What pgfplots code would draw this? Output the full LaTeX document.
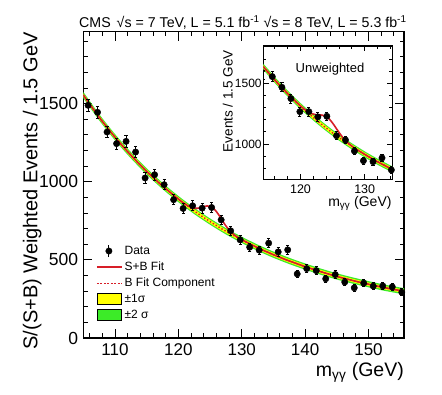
\documentclass[border=0pt]{standalone}
\usepackage{pgfplots}
\pgfplotsset{compat=1.18}
\usepackage{pgfplotstable}
\usepgfplotslibrary{fillbetween}
\usepackage{fontspec}
\setmainfont{Liberation Sans}
\definecolor{sbred}{RGB}{215,30,40}
\definecolor{band1}{RGB}{255,255,0}
\definecolor{band2}{RGB}{60,235,40}

\pgfplotstableread{
m y e
105.75 1489 38
107.25 1444 38
108.75 1318 37
110.25 1244 36
111.75 1258 36
113.25 1190 35
114.75 1024 34
116.25 1045 34
117.75 981 33
119.25 885 32
120.75 829 31
122.25 846 31
123.75 831 31
125.25 835 31
126.75 756 30
128.25 686 29
129.75 628 28
131.25 581 27
132.75 562 27
134.25 607 28
135.75 551 27
137.25 564 27
138.75 410 24
140.25 444 25
141.75 431 24
143.25 379 23
144.75 406 24
146.25 358 23
147.75 321 22
149.25 351 23
150.75 332 22
152.25 333 22
153.75 327 22
155.25 293 21
}\maindata

\pgfplotstableread{
m B lo2 lo1 hi1 hi2
105 1555 1535 1544 1566 1575
107.5 1413 1393 1402 1424 1433
110 1285 1265 1274 1296 1305
112.5 1170 1150 1159 1181 1190
115 1066 1046 1055 1077 1086
117.5 973 953 962 984 993
120 889 869 878 900 909
122.5 813 793 802 824 833
125 745 725 734 756 765
127.5 683 663 672 694 703
130 628 608 617 639 648
132.5 578 558 567 589 598
135 533 513 522 544 553
137.5 493 473 482 504 513
140 457 437 446 468 477
142.5 424 404 413 435 444
145 394 374 383 405 414
147.5 368 348 357 379 388
150 344 324 333 355 364
152.5 322 302 311 333 342
155.6 299 279 288 310 319
}\mainband

\pgfplotstableread{
m y
105 1555
107.5 1413
110 1285
112.5 1170
115 1066
117.5 973
120 889
120.5 873
121 859
121.5 846
122 837
122.5 830
123 830
123.5 834
124 840
124.5 845
125 843
125.5 831
126 809
126.5 780
127 748
127.5 717
128 692
128.5 671
129 654
129.5 641
130 629
132.5 578
135 533
137.5 493
140 457
142.5 424
145 394
147.5 368
150 344
152.5 322
155.6 299
}\mainsb

\pgfplotstableread{
m y e
114.18 1569 40
115.6 1555 39
117.1 1467 38
118.5 1374 37
119.9 1266 36
121.3 1266 36
122.7 1223 35
124.1 1228 35
125.6 1068 33
127.0 1033 32
128.4 942 31
129.8 862 29
131.3 854 29
132.7 885 30
134.15 786 28
}\insetdata

\pgfplotstableread{
m B lo2 lo1 hi1 hi2
114.2 1637 1612 1623 1651 1662
116.2 1515 1490 1501 1529 1540
118.2 1404 1379 1390 1418 1429
120.2 1302 1277 1288 1316 1327
122.2 1209 1184 1195 1223 1234
124.2 1123 1098 1109 1137 1148
126.2 1045 1020 1031 1059 1070
128.2 974 949 960 988 999
130.2 908 883 894 922 933
132.2 848 823 834 862 873
134.3 791 766 777 805 816
}\insetband

\pgfplotstableread{
m y
114.2 1637
116.2 1515
118.2 1404
120 1313
120.5 1291
121 1271
121.5 1255
122 1246
122.5 1240
123 1240
123.5 1236
124 1225
124.5 1204
125 1172
125.5 1134
126 1095
126.5 1059
127 1029
127.5 1004
128 982
128.5 963
130.2 908
132.2 848
134.3 791
}\insetsb

\begin{document}
\begin{tikzpicture}
\path (0,0) rectangle (442pt,394pt);
\begin{axis}[
  at={(83.3pt,56pt)}, anchor=south west, scale only axis,
  width=320.7pt, height=306.3pt,
  xmin=105, xmax=155.6, ymin=0, ymax=1960,
  xtick={110,120,130,140,150}, ytick={0,500,1000,1500},
  minor xtick={106,108,...,154}, minor ytick={100,200,...,1900},
  tick align=inside, xtick pos=both, ytick pos=both,
  major tick length=9pt, minor tick length=4.5pt,
  every tick/.style={black, line width=0.9pt},
  axis line style={line width=1.2pt},
  /pgf/number format/assume math mode=true, /pgf/number format/1000 sep={},
  xticklabel style={font=\fontsize{17}{17}\selectfont, inner sep=0pt, yshift=-5pt},
  yticklabel style={font=\fontsize{17.5}{17.5}\selectfont, inner sep=0pt, xshift=-5pt},
  xlabel={m\textsubscript{γγ} (GeV)},
  xlabel style={at={(1,0)}, anchor=north east, inner sep=0pt, yshift=-23.7pt, font=\fontsize{19.5}{19.5}\selectfont},
  ylabel={S/(S+B) Weighted Events / 1.5 GeV},
  ylabel style={at={(0,0.48)}, anchor=center, inner sep=0pt, yshift=51.2pt, font=\fontsize{20}{20}\selectfont},
  legend cell align=left,
  legend style={draw=none, fill=none, at={(0.0396,0.307)}, anchor=north west,
    font=\fontsize{12}{14}\selectfont, row sep=2pt, inner sep=0pt},
]
\addplot[name path=h2, draw=none, smooth, forget plot] table[x=m,y=hi2]{\mainband};
\addplot[name path=l2, draw=none, smooth, forget plot] table[x=m,y=lo2]{\mainband};
\addplot[band2, forget plot] fill between[of=h2 and l2];
\addplot[name path=h1, draw=none, smooth, forget plot] table[x=m,y=hi1]{\mainband};
\addplot[name path=l1, draw=none, smooth, forget plot] table[x=m,y=lo1]{\mainband};
\addplot[band1, forget plot] fill between[of=h1 and l1];
\addplot[sbred, dotted, line width=1.4pt, smooth, forget plot] table[x=m,y=B]{\mainband};
\addplot[sbred, line width=1.6pt, smooth, forget plot] table[x=m,y=y]{\mainsb};
\addplot[only marks, mark=*, mark size=3.2pt, black, forget plot,
  error bars/.cd, y dir=both, y explicit,
  error bar style={line width=0.9pt},
  error mark options={rotate=90, mark size=1.6pt, line width=0.9pt}]
  table[x=m, y=y, y error=e]{\maindata};

\addlegendimage{legend image code/.code={\draw[black,line width=0.9pt] (12pt,-6pt)--(12pt,6pt); \fill[black] (12pt,0pt) circle (3.2pt);}}
\addlegendentry{Data}
\addlegendimage{legend image code/.code={\draw[sbred,line width=1.4pt] (0pt,0pt)--(25pt,0pt);}}
\addlegendentry{S+B Fit}
\addlegendimage{legend image code/.code={\draw[sbred,line width=1.3pt,dash pattern=on 2pt off 1.5pt] (0pt,0pt)--(25pt,0pt);}}
\addlegendentry{B Fit Component}
\addlegendimage{legend image code/.code={\draw[black,fill=band1,line width=0.6pt] (0pt,-5.5pt) rectangle (24pt,5.5pt);}}
\addlegendentry{±1σ}
\addlegendimage{legend image code/.code={\draw[black,fill=band2,line width=0.6pt] (0pt,-5.5pt) rectangle (24pt,5.5pt);}}
\addlegendentry{±2 σ}
\end{axis}

\node[anchor=base west, inner sep=0pt, font=\fontsize{14.2}{14.2}\selectfont] at (79pt,366.5pt)
  {CMS\hspace{6pt}√s = 7 TeV, L = 5.1 fb\textsuperscript{-1} √s = 8 TeV, L = 5.3 fb\textsuperscript{-1}};

\begin{axis}[
  at={(263.3pt,214.7pt)}, anchor=south west, scale only axis,
  width=129pt, height=133.3pt,
  xmin=114.2, xmax=134.3, ymin=709, ymax=1807,
  axis background/.style={fill=white},
  xtick={120,130}, ytick={1000,1500},
  minor xtick={116,118,...,134}, minor ytick={800,900,...,1800},
  tick align=inside, xtick pos=both, ytick pos=both,
  major tick length=5.5pt, minor tick length=3pt,
  every tick/.style={black, line width=0.8pt},
  axis line style={line width=1.1pt},
  /pgf/number format/assume math mode=true, /pgf/number format/1000 sep={},
  xticklabel style={font=\fontsize{12.5}{12.5}\selectfont, inner sep=0pt, yshift=-5.5pt},
  yticklabel style={font=\fontsize{12}{12}\selectfont, inner sep=0pt, xshift=-1.5pt},
  xlabel={m\textsubscript{γγ} (GeV)},
  xlabel style={at={(1,0)}, anchor=north east, inner sep=0pt, yshift=-17pt, xshift=-0.6pt, font=\fontsize{14}{14}\selectfont},
  ylabel={Events / 1.5 GeV},
  ylabel style={at={(0,0.587)}, anchor=center, inner sep=0pt, yshift=35.5pt, font=\fontsize{13.5}{13.5}\selectfont},
]
\addplot[name path=ih2, draw=none, smooth] table[x=m,y=hi2]{\insetband};
\addplot[name path=il2, draw=none, smooth] table[x=m,y=lo2]{\insetband};
\addplot[band2] fill between[of=ih2 and il2];
\addplot[name path=ih1, draw=none, smooth] table[x=m,y=hi1]{\insetband};
\addplot[name path=il1, draw=none, smooth] table[x=m,y=lo1]{\insetband};
\addplot[band1] fill between[of=ih1 and il1];
\addplot[sbred, dotted, line width=1.4pt, smooth] table[x=m,y=B]{\insetband};
\addplot[sbred, line width=1.6pt, smooth] table[x=m,y=y]{\insetsb};
\addplot[only marks, mark=*, mark size=3.2pt, black,
  error bars/.cd, y dir=both, y explicit,
  error bar style={line width=0.9pt},
  error mark options={rotate=90, mark size=1.6pt, line width=0.9pt}]
  table[x=m, y=y, y error=e]{\insetdata};
\node[font=\fontsize{13}{13}\selectfont] at (rel axis cs:0.517,0.827) {Unweighted};
\end{axis}
\path[use as bounding box] (0,0) rectangle (442pt,394pt);
\end{tikzpicture}
\end{document}
